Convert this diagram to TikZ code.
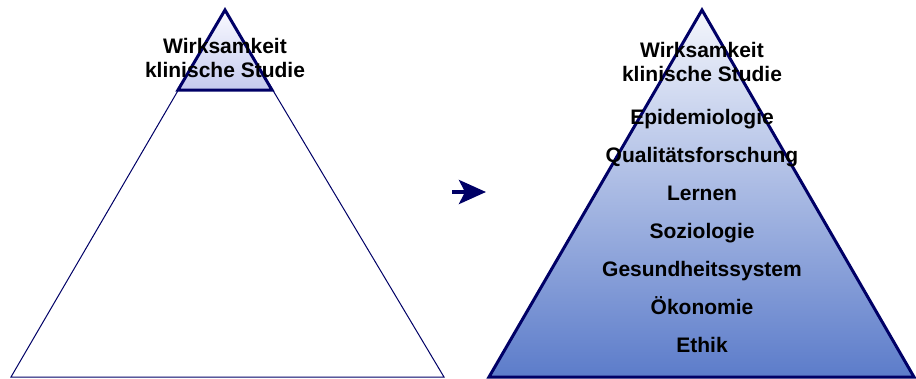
\documentclass[tikz,border=0pt]{standalone}
\usepackage{fontspec}
\setmainfont{Liberation Sans}
\usetikzlibrary{positioning,arrows.meta}
\definecolor{navy}{RGB}{0,0,102}
\definecolor{pyrtop}{RGB}{244,246,252}
\definecolor{pyrbot}{RGB}{92,124,202}
\definecolor{tiptop}{RGB}{250,250,255}
\definecolor{tipbot}{RGB}{196,202,238}

\begin{document}
\begin{tikzpicture}[x=1pt,y=-1pt,node distance=18.6pt,
  head/.style={font=\bfseries\fontsize{21}{24}\selectfont,align=center,inner sep=0pt},
  lbl/.style={font=\bfseries\fontsize{21}{24}\selectfont,text height=15pt,text depth=4pt,inner sep=0pt}]
  \useasboundingbox (0,0) rectangle (916,378);
  % left pyramid
  \coordinate (lA) at (225,10);
  \coordinate (lL) at (11,377);
  \coordinate (lR) at (444,377);
  \coordinate (tL) at (178,90);
  \coordinate (tR) at (272,90);
  \draw[navy,line width=1pt] (lA) -- (lL) -- (lR) -- cycle;
  \shade[top color=tiptop,bottom color=tipbot] (lA) -- (tL) -- (tR) -- cycle;
  \draw[navy,line width=3pt,line join=miter] (lA) -- (tL) -- (tR) -- cycle;
  \node[head] (lhead) at (225,58) {Wirksamkeit\\klinische Studie};
  % arrow
  \coordinate (arrS) at (452,192);
  \coordinate (arrE) at (486,192);
  \draw[navy,line width=4pt,-{Stealth[length=27pt,width=24pt,inset=6pt]}] (arrS) -- (arrE);
  % right pyramid
  \coordinate (rA) at (702,10);
  \coordinate (rL) at (489,377);
  \coordinate (rR) at (914,377);
  \shade[top color=pyrtop,bottom color=pyrbot] (rA) -- (rL) -- (rR) -- cycle;
  \draw[navy,line width=3pt,line join=miter] (rA) -- (rL) -- (rR) -- cycle;
  \node[head] (rhead) at (702,62) {Wirksamkeit\\klinische Studie};
  \node[lbl] (epi) at (702,119) {Epidemiologie};
  \node[lbl,below=of epi] (qual) {Qualitätsforschung};
  \node[lbl,below=of qual] (lern) {Lernen};
  \node[lbl,below=of lern] (sozi) {Soziologie};
  \node[lbl,below=of sozi] (gesu) {Gesundheitssystem};
  \node[lbl,below=of gesu] (oeko) {Ökonomie};
  \node[lbl,below=of oeko] (ethi) {Ethik};
\end{tikzpicture}
\end{document}
